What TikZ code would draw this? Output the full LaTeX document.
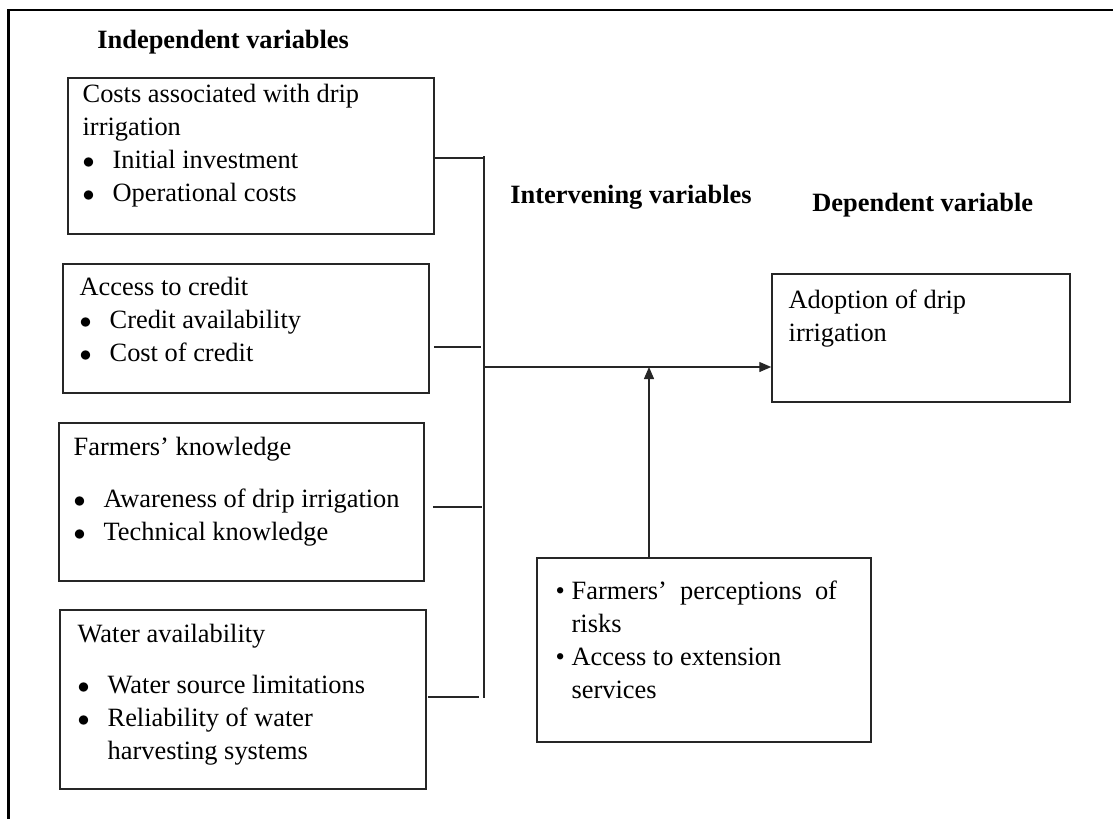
\documentclass[tikz,border=0pt]{standalone}
\usepackage{fontspec}
\setmainfont{Liberation Serif}
\usetikzlibrary{arrows.meta}

\newcommand{\dotitem}[2][15pt]{\makebox[#1][l]{$\bullet$}#2}
\newcommand{\smalldotitem}[2][8pt]{\makebox[#1][l]{\textbullet}#2}
\newcommand{\dotcont}[2][15pt]{\hspace*{#1}#2}

\begin{document}
\begin{tikzpicture}[x=0.5pt, y=-0.5pt,
		varbox/.style={draw=black!85, line width=0.75pt, rectangle, inner sep=0pt},
		vartext/.style={anchor=north west, align=left, inner sep=0pt, font=\fontsize{13.2pt}{16.5pt}\selectfont},
		heading/.style={anchor=west, inner sep=0pt, font=\fontsize{13.2pt}{16.5pt}\selectfont\bfseries},
		link/.style={draw=black!85, line width=0.65pt},
		arr/.style={link, -{Triangle[length=6pt, width=5pt]}},
		frame/.style={draw=black, line width=1.2pt}]
		\useasboundingbox (0,0) rectangle (1113,819);
		\draw[frame] (1113,10) -- (8.5,10) -- (8.5,819);

		\node (hind) [heading] at (97,42) {Independent variables};
		\node (hint) [heading] at (510,197) {Intervening variables};
		\node (hdep) [heading] at (812,205) {Dependent variable};

		\node (b1) [varbox, minimum width=183pt, minimum height=78pt] at (251,156) {};
		\node (t1) [vartext] at ([shift={(15,7)}]b1.north west) {Costs associated with drip\\irrigation\\\dotitem{Initial investment}\\\dotitem{Operational costs}};

		\node (b2) [varbox, minimum width=183pt, minimum height=64.5pt] at (246,328.5) {};
		\node (t2) [vartext] at ([shift={(17,14)}]b2.north west) {Access to credit\\\dotitem{Credit availability}\\\dotitem{Cost of credit}};

		\node (b3) [varbox, minimum width=182.5pt, minimum height=79pt] at (241.5,502) {};
		\node (t3) [vartext] at ([shift={(15,15)}]b3.north west) {Farmers’ knowledge\\[9.5pt]\dotitem{Awareness of drip irrigation}\\\dotitem{Technical knowledge}};

		\node (b4) [varbox, minimum width=183pt, minimum height=89.5pt] at (243,699.5) {};
		\node (t4) [vartext] at ([shift={(18,15)}]b4.north west) {Water availability\\[9pt]\dotitem{Water source limitations}\\\dotitem{Reliability of water}\\\dotcont{harvesting systems}};

		\node (bi) [varbox, minimum width=167pt, minimum height=92pt] at (704,650) {};
		\node (ti) [vartext] at ([shift={(19,23)}]bi.north west) {\smalldotitem{Farmers’\ \ perceptions\ \ of}\\\dotcont[8pt]{risks}\\\smalldotitem{Access to extension}\\\dotcont[8pt]{services}};

		\node (ba) [varbox, minimum width=149pt, minimum height=64pt] at (921,338) {};
		\node (ta) [vartext] at ([shift={(17,16)}]ba.north west) {Adoption of drip\\irrigation};

		\coordinate (bustop) at (484,156);
		\coordinate (busbot) at (484,698);
		\coordinate (k1) at (484,158);
		\coordinate (k2) at (484,347);
		\coordinate (k3) at (484,507);
		\coordinate (k4) at (484,697);
		\coordinate (jn) at (484,367);
		\coordinate (up) at ([xshift=-27.5pt]bi.north);

		\draw[link] (bustop) -- (busbot);
		\draw[link] (b1.east |- k1) -- (k1);
		\draw[link, shorten <=2pt, shorten >=1.5pt] (b2.east |- k2) -- (k2);
		\draw[link, shorten <=4pt, shorten >=1pt] (b3.east |- k3) -- (k3);
		\draw[link, shorten <=0.5pt, shorten >=2.5pt] (b4.east |- k4) -- (k4);

		\draw[arr] (jn) -- (jn -| ba.west);
		\draw[arr] (up) -- (up |- jn);
\end{tikzpicture}
\end{document}
